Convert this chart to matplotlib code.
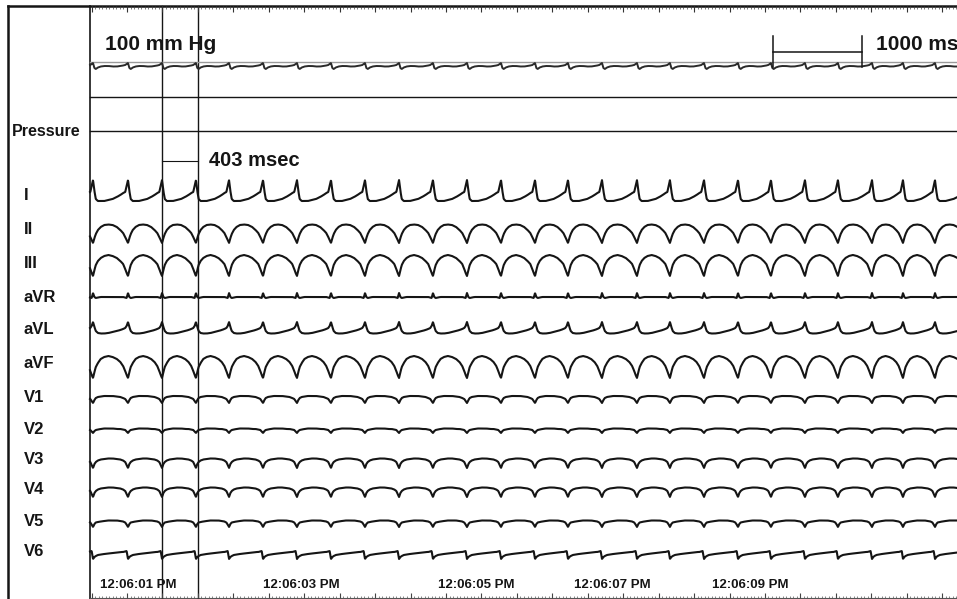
import numpy as np
import matplotlib
matplotlib.use("Agg")
import matplotlib.pyplot as plt

plt.rcParams['font.family'] = ['Liberation Sans', 'DejaVu Sans']

# time scale of the recording (pixels per second on the 957x599 canvas)
PX_PER_S = 88.6
X0_PX = 90          # left edge of the tracing area
W_PX, H_PX = 957, 599

beat_times = [-0.350, 0.034, 0.429, 0.813, 1.196, 1.569, 1.953, 2.336, 2.720,
              3.104, 3.488, 3.871, 4.255, 4.639, 5.023, 5.395, 5.779, 6.174,
              6.546, 6.930, 7.314, 7.686, 8.070, 8.442, 8.826, 9.176, 9.537,
              9.910]

# one beat template, phase 0 = R wave, 1 = next R wave
phase = [0, 0.04, 0.08, 0.14, 0.22, 0.32, 0.44, 0.56, 0.68, 0.78, 0.86, 0.92, 0.96, 1.0]

lead_names = ['I', 'II', 'III', 'aVR', 'aVL', 'aVF', 'V1', 'V2', 'V3', 'V4', 'V5', 'V6']
label_rows = [196, 230, 263, 297, 329, 364, 398, 430, 460, 490, 521, 552]
baselines = [201, 243, 276, 297, 333, 378, 403, 433, 468, 497, 527, 556]

# deflections in canvas pixels (negative = upward)
shape_I = [-21, -10, -2, 0, 0, 0, -1, -2, -4, -6, -8, -9, -15, -21]
shape_II = [0, -5, -9, -13, -16, -18, -18.5, -18, -16, -13, -10, -6, -3, 0]
shape_III = [0, -6, -11, -15, -18, -20, -21, -20, -18, -15, -12, -7, -3, 0]
shape_aVR = [-4, 0, 1, 0.5, 0, 0, 0, 0, 0, 0, 0, 0.5, 1, -4]
shape_aVL = [-11, -6, -2, 0, 0.5, 0.5, 0, -1, -2, -3, -4, -5, -7, -11]
shape_aVF = [0, -6, -11, -15, -19, -21, -22, -21, -19, -16, -12, -7, -3, 0]
shape_V1 = [0, -3, -5, -6, -6.5, -7, -7, -7, -6.5, -6, -5, -4, -2, 0]
shape_V2 = [0, -2, -3, -3.5, -4, -4.5, -4.5, -4.5, -4, -4, -3.5, -3, -1.5, 0]
shape_V3 = [0, -4, -6, -7.5, -8.5, -9, -9.5, -9.5, -9, -8.5, -7.5, -6, -3, 0]
shape_V4 = [0, -4, -6, -7.5, -8.5, -9, -9.5, -9.5, -9, -8.5, -7.5, -6, -3, 0]
shape_V5 = [0, -3, -4.5, -5, -5.5, -6, -6.5, -6.5, -6.5, -6, -5.5, -4.5, -2.5, 0]
shape_V6 = [3, 1, 0, -1, -1.5, -2, -2.5, -3, -3.5, -4, -4, -4.5, -5, 3]
lead_shapes = [shape_I, shape_II, shape_III, shape_aVR, shape_aVL, shape_aVF,
               shape_V1, shape_V2, shape_V3, shape_V4, shape_V5, shape_V6]

pressure_base = 66
pressure_ref = 62
shape_pressure = [-3, 2, 3, 1.5, 0.5, 0, 0, 0.5, 0.5, 0, -0.5, -1, -2, -3]

cursor_t = 0.813
cursor_gap = 0.403          # 403 msec
scale_bar_t = 7.709         # 1000 ms calibration bar start
ruler_origin = 0.018
time_labels = ['12:06:01 PM', '12:06:03 PM', '12:06:05 PM', '12:06:07 PM', '12:06:09 PM']
time_label_t = [0.547, 2.387, 4.362, 5.897, 7.449]

t_left = -X0_PX / PX_PER_S
t_right = (W_PX - X0_PX) / PX_PER_S
px = 1.0 / PX_PER_S     # one pixel in seconds

fig = plt.figure(figsize=(W_PX / 100, H_PX / 100), dpi=100)
ax = fig.add_axes([0, 0, 1, 1])
ax.set_xlim(t_left, t_right)
ax.set_ylim(H_PX, 0)
ax.axis('off')

ink = '#151515'


def build_trace(base, shape):
    ts, ys = [], []
    ph = np.array(phase)
    sh = np.array(shape, dtype=float)
    for b0, b1 in zip(beat_times[:-1], beat_times[1:]):
        ts.extend(b0 + ph[:-1] * (b1 - b0))
        ys.extend(base + sh[:-1])
    ts.append(beat_times[-1])
    ys.append(base + shape[-1])
    grid = np.linspace(0, t_right, 3000)
    return grid, np.interp(grid, ts, ys)


# frame, rulers and cursors
ax.plot([t_left + 8 * px, t_left + 8 * px], [6, H_PX], color=ink, lw=1.8)
ax.plot([t_left + 8 * px, t_right], [6, 6], color=ink, lw=1.8)
ax.plot([0, 0], [6, H_PX], color=ink, lw=1.2)
ax.plot([0, t_right], [597.5, 597.5], color='#555555', lw=0.8)
for c in [cursor_t, cursor_t + cursor_gap]:
    ax.plot([c, c], [6, H_PX], color=ink, lw=1.0)

minor = np.arange(ruler_origin, t_right, 0.04)
major = np.arange(ruler_origin, t_right, 0.4)
ax.vlines(minor, 6, 9, color='#444444', lw=0.5)
ax.vlines(major, 6, 12, color='#333333', lw=0.8)
ax.vlines(minor, 596, 598, color='#555555', lw=0.5)
ax.vlines(major, 593, 598, color='#444444', lw=0.8)

# pressure channel
ax.plot([0, t_right], [pressure_ref, pressure_ref], color='#9a9a9a', lw=1.0)
pt, py = build_trace(pressure_base, shape_pressure)
ax.plot(pt, py, color='#2a2a2a', lw=1.4, solid_joinstyle='round')
ax.plot([0, t_right], [97, 97], color=ink, lw=1.0)
ax.plot([0, t_right], [131, 131], color=ink, lw=1.0)

# 12-lead ECG traces
for base, shape in zip(baselines, lead_shapes):
    t, y = build_trace(base, shape)
    ax.plot(t, y, color=ink, lw=1.5, solid_joinstyle='round')

# annotations
ax.plot([cursor_t, cursor_t + cursor_gap], [161, 161], color=ink, lw=0.8)
ax.text(cursor_t + cursor_gap + 11 * px, 161, '403 msec', fontsize=14.5,
        fontweight='bold', color=ink, va='center', ha='left')
ax.text(15 * px, 45, '100 mm Hg', fontsize=15, fontweight='bold', color=ink,
        va='center', ha='left')
ax.plot([scale_bar_t, scale_bar_t], [36, 67], color=ink, lw=1.1)
ax.plot([scale_bar_t + 1.0, scale_bar_t + 1.0], [36, 67], color=ink, lw=1.1)
ax.plot([scale_bar_t, scale_bar_t + 1.0], [52, 52], color=ink, lw=1.1)
ax.text(scale_bar_t + 1.0 + 14 * px, 45, '1000 ms', fontsize=15, fontweight='bold',
        color=ink, va='center', ha='left', clip_on=True)

ax.text(t_left + 12 * px, 131, 'Pressure', fontsize=11.5, fontweight='bold',
        color=ink, va='center', ha='left')
for name, row in zip(lead_names, label_rows):
    ax.text(t_left + 24 * px, row, name, fontsize=12, fontweight='bold',
            color=ink, va='center', ha='left')

for lab, t in zip(time_labels, time_label_t):
    ax.text(t, 585, lab, fontsize=9.5, fontweight='bold', color=ink,
            va='center', ha='center')

fig.savefig('out.png', dpi=100, facecolor='white')
